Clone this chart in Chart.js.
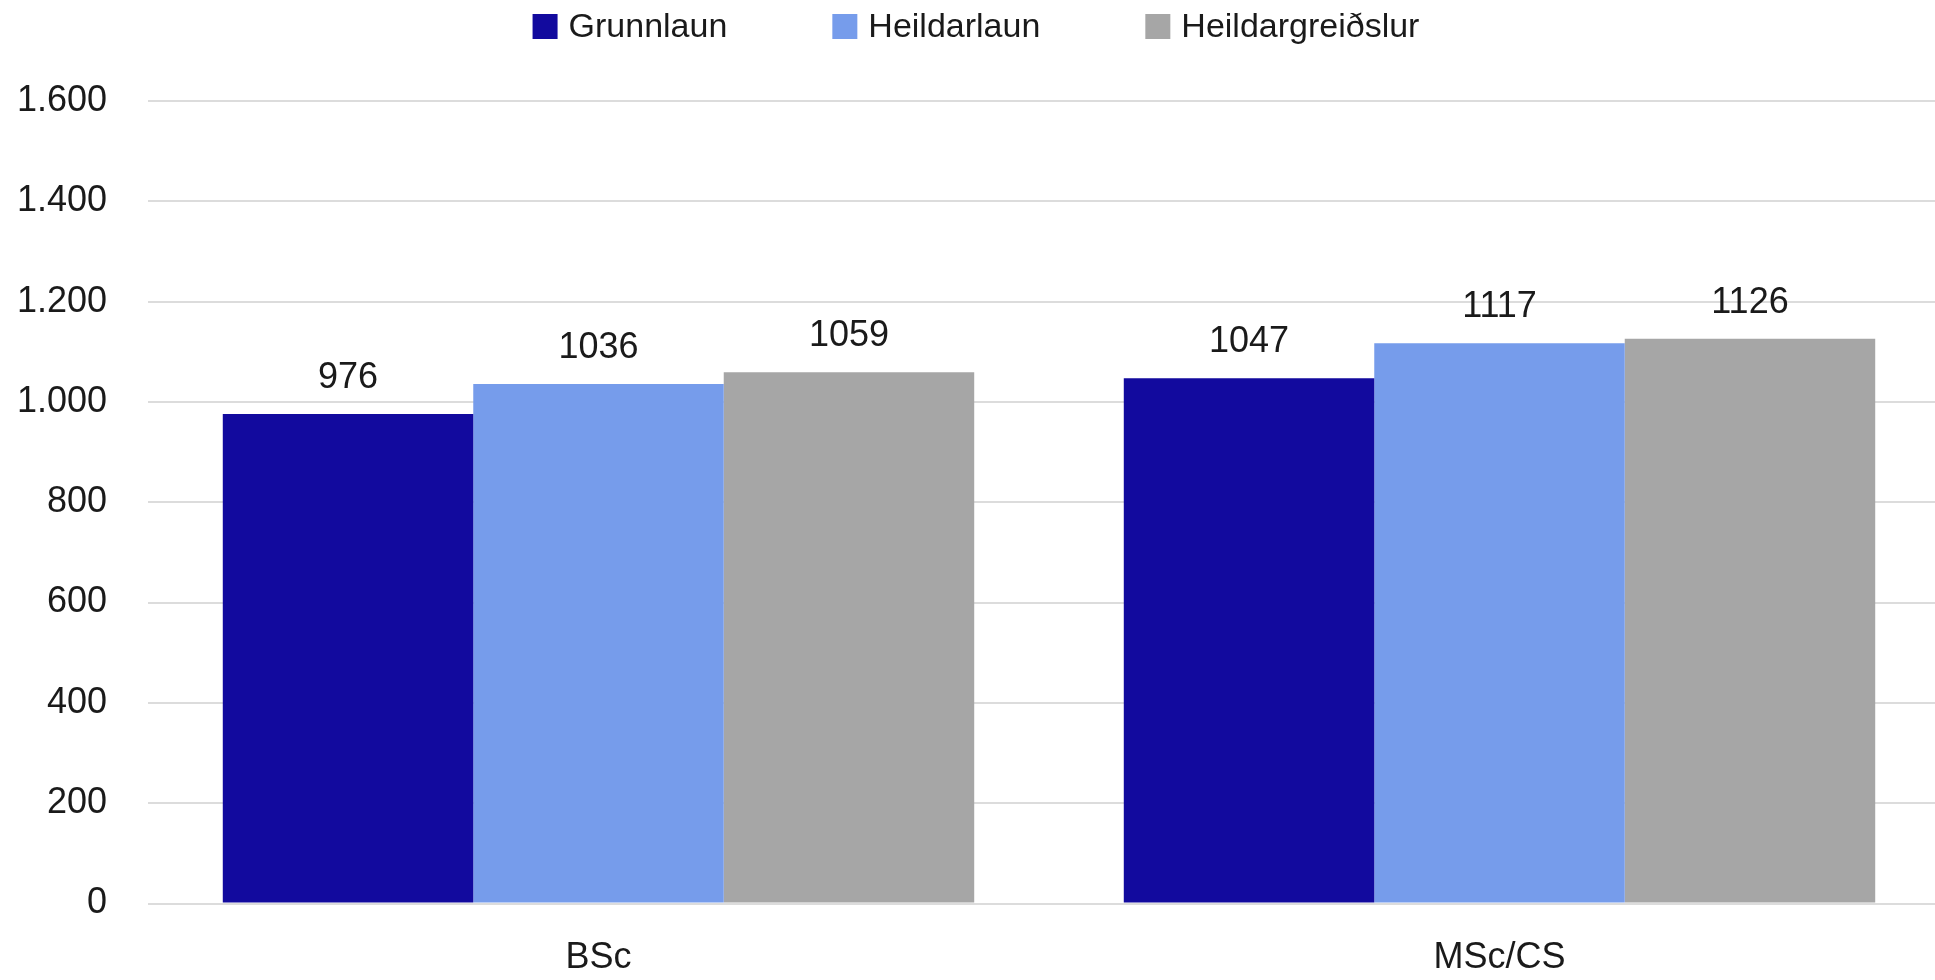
<!DOCTYPE html>
<html>
<head>
<meta charset="utf-8">
<script src="https://cdn.jsdelivr.net/npm/chart.js@4.4.1/dist/chart.umd.min.js"></script>
<style>
  html, body { margin: 0; padding: 0; background: #fff; overflow: hidden; }
  .wrap { width: 1952px; height: 980px; position: relative; }
</style>
</head>
<body>
<div class="wrap"><canvas id="barChart"></canvas></div>
<script>
const categories = ['BSc', 'MSc/CS'];
const seriesNames = ['Grunnlaun', 'Heildarlaun', 'Heildargreiðslur'];
const grunnlaun = [976, 1047];
const heildarlaun = [1036, 1117];
const heildargreidslur = [1059, 1126];
const yTickLabels = ['0', '200', '400', '600', '800', '1.000', '1.200', '1.400', '1.600'];

const FONT = "'Liberation Sans', Arial, sans-serif";
const TEXT = '#1a1a1a';

// numbers above each bar
const valueLabels = {
  id: 'valueLabels',
  afterDatasetsDraw(chart) {
    const ctx = chart.ctx;
    ctx.save();
    ctx.font = '36px ' + FONT;
    ctx.fillStyle = TEXT;
    ctx.textAlign = 'center';
    ctx.textBaseline = 'alphabetic';
    chart.data.datasets.forEach((ds, i) => {
      chart.getDatasetMeta(i).data.forEach((bar, j) => {
        ctx.fillText(String(ds.data[j]), bar.x, bar.y - 26);
      });
    });
    ctx.restore();
  }
};

// legend row on top, wide spacing between items
const topLegend = {
  id: 'topLegend',
  afterDraw(chart) {
    const ctx = chart.ctx;
    const box = 25, gap = 11, spacing = 105;
    ctx.save();
    ctx.font = '34px ' + FONT;
    ctx.textBaseline = 'middle';
    const items = chart.data.datasets.map(ds => ({
      text: ds.label,
      color: ds.backgroundColor,
      w: box + gap + ctx.measureText(ds.label).width
    }));
    const total = items.reduce((s, it) => s + it.w, 0) + spacing * (items.length - 1);
    let x = (chart.width - total) / 2;
    const cy = 26.5;
    items.forEach(it => {
      ctx.fillStyle = it.color;
      ctx.fillRect(x, cy - box / 2, box, box);
      ctx.fillStyle = TEXT;
      ctx.fillText(it.text, x + box + gap, cy + 1);
      x += it.w + spacing;
    });
    ctx.restore();
  }
};

new Chart(document.getElementById('barChart'), {
  type: 'bar',
  data: {
    labels: categories,
    datasets: [
      { label: seriesNames[0], data: grunnlaun, backgroundColor: '#120A9E' },
      { label: seriesNames[1], data: heildarlaun, backgroundColor: '#769CEB' },
      { label: seriesNames[2], data: heildargreidslur, backgroundColor: '#A6A6A6' }
    ]
  },
  options: {
    responsive: true,
    maintainAspectRatio: false,
    animation: false,
    datasets: {
      bar: { categoryPercentage: 0.834, barPercentage: 1, borderWidth: 0 }
    },
    layout: { padding: { top: 101, right: 2, left: 0, bottom: 0 } },
    plugins: {
      legend: { display: false },
      tooltip: { enabled: false }
    },
    scales: {
      x: {
        afterFit: s => { s.height = 76.5; },
        grid: { display: false, drawTicks: false },
        border: { display: false },
        ticks: {
          padding: 33,
          color: TEXT,
          font: { family: FONT, size: 36 }
        }
      },
      y: {
        min: 0,
        max: 1600,
        afterFit: s => { s.width = 148; },
        ticks: {
          stepSize: 200,
          padding: 41,
          color: TEXT,
          font: { family: FONT, size: 36 },
          callback: (v, i) => yTickLabels[i]
        },
        grid: { color: '#dcdcdc', lineWidth: 2, drawTicks: false },
        border: { display: false }
      }
    }
  },
  plugins: [valueLabels, topLegend]
});
</script>
</body>
</html>
